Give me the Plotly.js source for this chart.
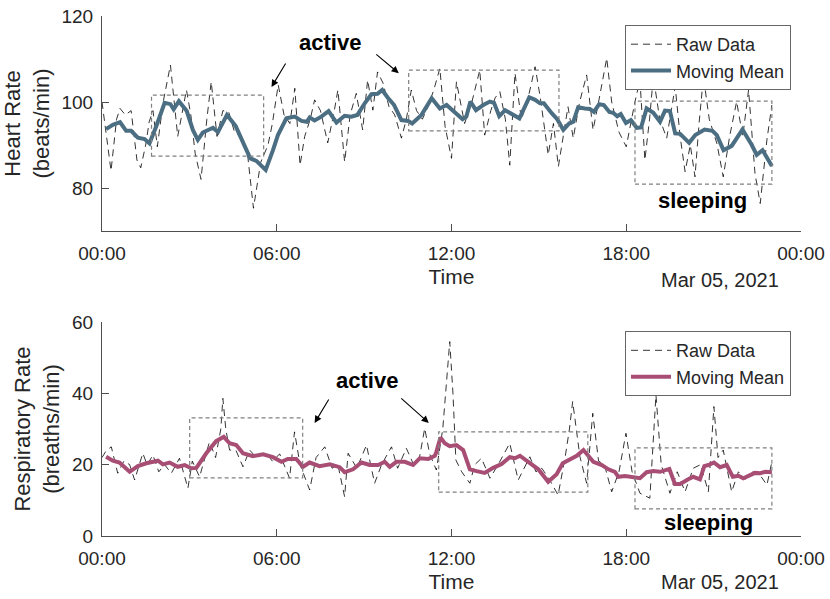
<!DOCTYPE html>
<html>
<head>
<meta charset="utf-8">
<script src="https://cdn.plot.ly/plotly-3.0.1.min.js"></script>
<style>
  html, body { margin: 0; padding: 0; background: #fff; }
  #graph { width: 830px; height: 599px; }
</style>
</head>
<body>
<div id="graph"></div>
<script>
/* ---------------- data (hours after midnight, Mar 05 2021) ---------------- */

var hrRawHours = [0.0,0.15,0.31,0.5,0.62,0.8,1.0,1.2,1.33,1.5,1.62,1.75,1.9,2.1,2.35,2.6,2.9,3.05,3.2,3.4,
  3.6,3.75,3.95,4.15,4.35,4.55,4.75,5.0,5.2,5.45,5.7,5.85,6.05,6.25,6.45,6.62,6.8,6.96,7.15,7.3,
  7.5,7.75,7.95,8.1,8.33,8.52,8.73,8.95,9.12,9.3,9.46,9.65,9.85,10.05,10.28,10.45,10.62,10.8,11.0,11.2,
  11.4,11.6,11.78,12.0,12.17,12.45,12.7,12.97,13.14,13.35,13.5,13.66,13.85,14.0,14.18,14.4,14.6,14.87,15.05,15.32,
  15.5,15.67,15.85,16.0,16.18,16.4,16.64,16.86,17.05,17.33,17.5,17.75,18.0,18.3,18.47,18.64,18.8,18.93,19.15,19.39,
  19.68,19.85,20.02,20.2,20.36,20.5,20.65,20.85,21.11,21.33,21.55,21.79,22.0,22.2,22.42,22.6,22.83,23.0];
var hrRawValues = [100,92,84,96,98.5,97,98,86.5,84.7,90,95.4,98,89.6,100,108.6,92,102.8,97,88,82,
  96,104.7,92,98,97.7,93,92,87.7,75.3,86,90,95,104,97,95,103.2,85.3,92,96,100.5,
  98,90.5,97,102.8,86.1,97,102,93.5,105.1,98.1,107,104.4,99,97,91.6,96,102.8,98,96,99,
  103,107.8,94.3,86.9,104.7,95,100,107.4,92.3,98,101,102.4,96,85.3,106.7,96,100,108.2,101,87.7,
  95,85,93,98.9,91.6,100,106.3,93.5,100,110.2,100,93,89.6,100.1,105.1,86.5,96,105.9,96,91.6,
  103.6,92,83.8,90,82.6,95,105.9,96,90.4,82.6,92,100.1,92,102.8,83.4,76.4,91.2,99.3];

var hrMeanHours = [0.14,0.37,0.62,0.83,1.0,1.23,1.46,1.63,1.86,2.15,2.35,2.46,2.64,2.91,3.12,3.29,3.46,3.81,3.98,4.29,
  4.59,4.86,5.09,5.30,5.62,5.87,6.04,6.33,6.62,6.85,7.03,7.13,7.30,7.53,7.78,8.05,8.33,8.56,8.77,9.02,
  9.25,9.46,9.62,9.80,10.03,10.28,10.51,10.65,10.97,11.32,11.60,11.83,12.0,12.17,12.38,12.51,12.65,12.84,13.09,13.32,
  13.46,13.64,13.84,14.07,14.33,14.67,14.87,15.04,15.17,15.44,15.63,15.84,16.04,16.18,16.35,16.58,16.75,16.89,17.07,17.23,
  17.42,17.55,17.69,17.81,17.99,18.16,18.36,18.51,18.70,18.93,19.16,19.33,19.50,19.68,19.85,20.16,20.37,20.69,20.96,21.11,
  21.34,21.62,21.99,22.31,22.48,22.68,23.0];
var hrMeanValues = [93.7,94.7,95.3,93.3,93.3,91.7,91.4,90.4,94.3,99.8,99.5,98.3,100.2,97.9,93.5,91.2,92.9,94.0,93.0,97.0,
  94.4,90.4,86.9,86.3,84.2,88.8,92.3,96.2,96.6,95.6,95.4,96.4,95.7,96.6,97.9,95.2,96.8,96.6,97.0,99.7,
  101.8,101.9,102.8,101.1,99.3,95.8,95.6,95.0,97.0,100.9,98.5,99.3,98.3,97.0,96.0,96.6,100.1,98.1,99.3,100.1,
  99.8,96.7,98.1,97.2,96.2,101.1,100.5,99.7,99.7,97.4,96.0,93.5,95.0,95.4,98.8,98.5,98.4,97.7,99.5,99.3,
  97.7,97.5,96.7,97.2,95.1,95.8,94.0,94.1,98.5,97.5,95.4,98.0,97.9,92.7,92.6,90.5,92.3,93.6,93.3,92.3,
  88.8,89.8,93.6,90.0,87.7,88.8,85.1];

var rrRawHours = [0.0,0.15,0.32,0.54,0.75,0.95,1.12,1.40,1.55,1.75,1.95,2.15,2.38,2.66,2.95,3.1,3.35,3.55,3.69,3.9,
  4.08,4.15,4.25,4.38,4.6,4.84,5.07,5.3,5.64,5.85,6.1,6.44,6.61,6.8,7.13,7.35,7.65,7.9,8.1,8.33,
  8.45,8.75,9.08,9.36,9.6,9.94,10.15,10.45,10.7,10.9,11.08,11.25,11.48,11.7,11.85,11.94,12.05,12.15,12.35,12.63,
  12.8,13.03,13.32,13.6,14.0,14.29,14.69,14.9,15.1,15.35,15.66,15.9,16.05,16.16,16.41,16.64,16.85,17.05,17.25,17.5,
  17.75,17.99,18.2,18.47,18.81,19.02,19.2,19.5,19.75,20.02,20.3,20.55,20.82,21.01,21.15,21.33,21.62,21.85,22.1,22.35,
  22.6,22.83,23.0];
var rrRawValues = [22,24,25,17.6,21,20,15.7,23.2,20,22.7,18,20,17.6,21.8,13.4,21,16.6,22,26.4,22,
  30,38.6,30,24.1,24,19.4,24.1,22,23.2,21,23,16.2,29.2,20,12.9,22,25,19,20,11,
  23.2,19,25.5,14.8,20,25,19,24.6,20,22,30.2,23,18.5,30,45,54.5,40,21.3,18,14.8,
  20,21.8,16.2,20,26,15.7,22.2,18,19,16,11.5,22,30,37.7,22.2,14.8,34.4,21,20,12.4,
  18,28.8,18,12,10.6,39.5,20,12,18,12.4,19,20,12.4,36.3,22,24.1,12.4,18,16,18,
  17,14.3,20.8];

var rrMeanHours = [0.14,0.37,0.60,0.95,1.23,1.52,1.92,2.09,2.32,2.60,2.84,3.06,3.24,3.58,3.92,4.18,4.38,4.61,4.84,5.18,
  5.53,5.87,6.16,6.38,6.67,6.90,7.13,7.47,7.82,8.16,8.33,8.62,8.91,9.19,9.48,9.71,9.88,10.11,10.40,10.68,
  10.91,11.2,11.43,11.48,11.62,11.77,11.94,12.17,12.40,12.63,12.86,13.14,13.43,13.72,14.0,14.18,14.35,14.64,14.98,15.32,
  15.61,15.82,16.07,16.30,16.53,16.74,16.87,17.16,17.39,17.61,17.73,17.96,18.24,18.47,18.70,18.93,19.16,19.48,19.67,19.85,
  20.13,20.30,20.53,20.68,20.82,21.01,21.22,21.45,21.66,21.85,22.02,22.25,22.42,22.60,22.77,23.0];
var rrMeanValues = [22.2,21.1,20.6,18.0,19.6,20.4,21.1,20.1,20.6,19.4,19.9,19.0,19.1,23.2,26.6,27.8,26.0,25.5,23.2,22.4,
  22.9,22.1,20.8,21.6,21.6,19.4,20.6,19.6,20.1,19.3,17.9,18.7,20.6,19.9,19.9,20.8,19.4,20.8,20.8,19.9,
  21.8,21.6,22.5,23.6,27.6,26.0,25.2,25.5,24.1,18.7,18.2,17.7,19.1,20.2,22.1,21.8,22.5,20.8,18.7,15.2,
  17.3,20.4,21.5,22.5,24.1,22.2,20.8,19.9,18.7,18.0,16.6,16.8,16.6,16.2,17.9,18.2,18.0,18.8,14.6,14.6,
  15.9,16.6,15.9,19.6,19.9,20.6,19.3,19.9,16.6,16.9,16.2,17.1,17.7,17.6,18.0,17.9];

var xTickLabels = ['00:00', '06:00', '12:00', '18:00', '00:00'];
var xTickHours = [0, 6, 12, 18, 24];

/* --------------------------- helpers ---------------------------- */

/**
 * Turns hours after midnight into a date string Plotly understands.
 * @param {number} h - hours after 00:00 on Mar 05 2021.
 * @return {string} 'YYYY-MM-DD HH:MM:SS'
 */
function toTime(h) {
    var ms = Date.UTC(2021, 2, 5) + Math.round(h*3600000);
    return new Date(ms).toISOString().replace('T', ' ').slice(0, 19);
}

var font = 'Liberation Sans, Arial, Helvetica, sans-serif';
var axisColor = '#4d4d4d';
var textColor = '#262626';
var hrColor = '#4b6e83';
var rrColor = '#a84e74';

/* --------------------------- traces ----------------------------- */

var hrRaw = {
    x: hrRawHours.map(toTime), y: hrRawValues,
    xaxis: 'x', yaxis: 'y', mode: 'lines', name: 'Raw Data',
    line: {color: '#000', width: 0.8, dash: '7px,5px'},
    legend: 'legend'
};
var hrMean = {
    x: hrMeanHours.map(toTime), y: hrMeanValues,
    xaxis: 'x', yaxis: 'y', mode: 'lines', name: 'Moving Mean',
    line: {color: hrColor, width: 4},
    legend: 'legend'
};
var rrRaw = {
    x: rrRawHours.map(toTime), y: rrRawValues,
    xaxis: 'x2', yaxis: 'y2', mode: 'lines', name: 'Raw Data',
    line: {color: '#000', width: 0.8, dash: '7px,5px'},
    legend: 'legend2'
};
var rrMean = {
    x: rrMeanHours.map(toTime), y: rrMeanValues,
    xaxis: 'x2', yaxis: 'y2', mode: 'lines', name: 'Moving Mean',
    line: {color: rrColor, width: 4},
    legend: 'legend2'
};

/* --------------------------- layout ----------------------------- */

function xAxis(anchor) {
    return {
        anchor: anchor,
        type: 'date',
        range: [toTime(0), toTime(24)],
        tickmode: 'array',
        tickvals: xTickHours.map(toTime),
        ticktext: xTickLabels,
        ticks: 'inside', ticklen: 7, tickcolor: axisColor,
        ticklabelstandoff: 5,
        showline: true, linecolor: axisColor, linewidth: 1,
        showgrid: false, zeroline: false,
        tickfont: {family: font, size: 19, color: textColor},
        title: {text: 'Time', font: {family: font, size: 21, color: textColor}, standoff: 6}
    };
}

function yAxis(anchor, domain, range, tickvals, title) {
    return {
        anchor: anchor,
        domain: domain,
        range: range,
        tickmode: 'array',
        tickvals: tickvals,
        ticks: 'inside', ticklen: 7, tickcolor: axisColor,
        ticklabelstandoff: 4,
        showline: true, linecolor: axisColor, linewidth: 1,
        showgrid: false, zeroline: false,
        tickfont: {family: font, size: 19, color: textColor},
        title: {text: title, font: {family: font, size: 22, color: textColor}, standoff: 6}
    };
}

function box(xref, yref, h0, h1, y0, y1) {
    return {
        type: 'rect', xref: xref, yref: yref,
        x0: toTime(h0), x1: toTime(h1), y0: y0, y1: y1,
        line: {color: '#808080', width: 1.2, dash: '4px,3px'},
        fillcolor: 'rgba(0,0,0,0)'
    };
}

function arrow(xref, yref, h, y, ax, ay) {
    return {
        xref: xref, yref: yref, x: toTime(h), y: y, ax: ax, ay: ay,
        text: '', showarrow: true, arrowhead: 2, arrowsize: 1.3,
        arrowwidth: 1.1, arrowcolor: '#000'
    };
}

function label(xref, yref, h, y, text) {
    return {
        xref: xref, yref: yref, x: toTime(h), y: y,
        text: '<b>' + text + '</b>', showarrow: false,
        font: {family: font, size: 22, color: '#000'}
    };
}

function dateNote(y) {
    return {
        xref: 'paper', yref: 'paper', x: 0.9714, y: y,
        xanchor: 'right', yanchor: 'middle',
        text: 'Mar 05, 2021', showarrow: false,
        font: {family: font, size: 20, color: textColor}
    };
}

function legendBox(y) {
    return {
        x: 0.9857, xanchor: 'right', y: y, yanchor: 'top',
        bgcolor: '#fff', bordercolor: '#666', borderwidth: 1,
        font: {family: font, size: 18, color: textColor},
        tracegroupgap: 0, itemwidth: 40
    };
}

var layout = {
    width: 830, height: 599,
    margin: {l: 102, r: 29, t: 16, b: 63},
    paper_bgcolor: '#fff', plot_bgcolor: '#fff',
    font: {family: font, color: textColor},
    showlegend: true,
    legend: legendBox(0.9827),
    legend2: legendBox(0.394),
    xaxis: xAxis('y'),
    yaxis: yAxis('x', [0.5865, 1], [70, 120], [80, 100, 120], 'Heart Rate<br>(beats/min)'),
    xaxis2: xAxis('y2'),
    yaxis2: yAxis('x2', [0, 0.4115], [0, 60], [0, 20, 40, 60], 'Respiratory Rate<br>(breaths/min)'),
    shapes: [
        box('x', 'y', 1.70, 5.55, 87.4, 101.6),
        box('x', 'y', 10.53, 15.69, 93.3, 107.4),
        box('x', 'y', 18.30, 23.0, 80.9, 100.2),
        box('x2', 'y2', 3.01, 6.89, 16.3, 33.1),
        box('x2', 'y2', 11.56, 16.68, 12.3, 29.2),
        box('x2', 'y2', 18.30, 23.0, 7.6, 24.7)
    ],
    annotations: [
        arrow('x', 'y', 5.82, 103.5, 15, -25),
        arrow('x', 'y', 10.19, 106.7, -24, -20),
        label('x', 'y', 7.82, 113.9, 'active'),
        label('x', 'y', 20.63, 77.2, 'sleeping'),
        arrow('x2', 'y2', 7.30, 31.7, 15, -25),
        arrow('x2', 'y2', 11.22, 31.7, -29, -26),
        label('x2', 'y2', 9.09, 43.7, 'active'),
        label('x2', 'y2', 20.81, 3.9, 'sleeping'),
        dateNote(0.4923),
        dateNote(-0.0885)
    ]
};

graph = document.getElementById('graph');
Plotly.newPlot(graph, [hrRaw, hrMean, rrRaw, rrMean], layout, {staticPlot: true});
</script>
</body>
</html>
